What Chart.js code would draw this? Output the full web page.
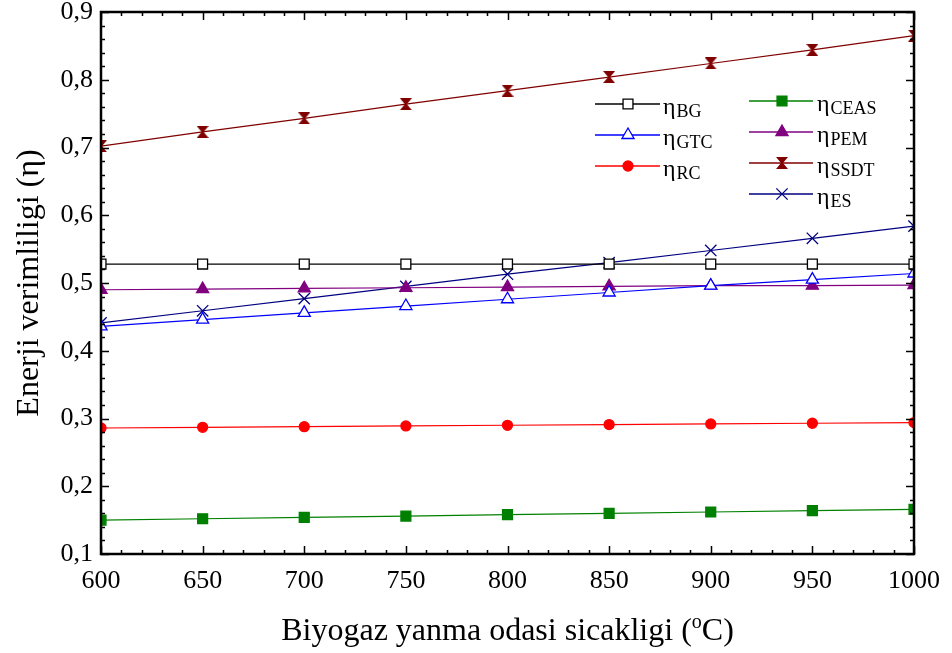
<!DOCTYPE html>
<html>
<head>
<meta charset="utf-8">
<script src="https://cdn.jsdelivr.net/npm/chart.js@4.4.0/dist/chart.umd.min.js"></script>
<style>
  html, body { margin: 0; padding: 0; background: #fff; }
</style>
</head>
<body>
<canvas id="chart" width="952" height="653"></canvas>
<script>
// temperature of the biogas combustion chamber (x axis)
const temperatures = [600, 650, 700, 750, 800, 850, 900, 950, 1000];

// energy efficiencies
const etaBG   = [0.528, 0.528, 0.528, 0.528, 0.528, 0.528, 0.528, 0.528, 0.528];
const etaGTC  = [0.436, 0.446, 0.456, 0.466, 0.476, 0.486, 0.496, 0.505, 0.514];
const etaRC   = [0.286, 0.287, 0.288, 0.289, 0.290, 0.291, 0.292, 0.293, 0.294];
const etaCEAS = [0.150, 0.152, 0.154, 0.156, 0.158, 0.160, 0.162, 0.164, 0.166];
const etaPEM  = [0.490, 0.491, 0.492, 0.493, 0.494, 0.495, 0.496, 0.496, 0.497];
const etaSSDT = [0.702, 0.723, 0.743, 0.764, 0.784, 0.804, 0.824, 0.844, 0.865];
const etaES   = [0.441, 0.459, 0.477, 0.495, 0.513, 0.530, 0.548, 0.566, 0.584];

const xTicks = { min: 600, max: 1000, step: 50, minor: 10 };
const yTicks = { min: 0.1, max: 0.9, step: 0.1, minor: 0.02 };

const SERIF = '"Liberation Serif", "Times New Roman", serif';

// hourglass marker for SSDT
function hourglass(color, s) {
  const c = document.createElement('canvas');
  c.width = s; c.height = s;
  const g = c.getContext('2d');
  g.fillStyle = color;
  g.beginPath();
  g.moveTo(0, 0); g.lineTo(s, 0); g.lineTo(s / 2 + 1, s / 2);
  g.lineTo(s, s); g.lineTo(0, s); g.lineTo(s / 2 - 1, s / 2);
  g.closePath();
  g.fill();
  return c;
}

const pts = arr => temperatures.map((t, i) => ({ x: t, y: arr[i] }));

function series(label, values, color, style, fill, radius, col, row) {
  return {
    label: label,
    data: pts(values),
    borderColor: color,
    borderWidth: 1.2,
    pointStyle: style,
    pointRadius: radius,
    pointBorderColor: color,
    pointBackgroundColor: fill,
    pointBorderWidth: 1.3,
    clip: 0,
    legendPos: { col: col, row: row }
  };
}

const datasets = [
  series('BG',   etaBG,   '#000000', 'rect',     '#ffffff', 7, 0, 0),
  series('GTC',  etaGTC,  '#0000ff', 'triangle', '#ffffff', 7, 0, 1),
  series('RC',   etaRC,   '#ff0000', 'circle',   '#ff0000', 5, 0, 2),
  series('CEAS', etaCEAS, '#008000', 'rect',     '#008000', 7, 1, 0),
  series('PEM',  etaPEM,  '#800080', 'triangle', '#800080', 7, 1, 1),
  series('SSDT', etaSSDT, '#800000', hourglass('#800000', 12), '#800000', 6, 1, 2),
  series('ES',   etaES,   '#000080', 'crossRot', '#000080', 8, 1, 3)
];

// frame with inside ticks on all four sides, in-plot legend and axis titles
const framePlugin = {
  id: 'frame',
  afterDatasetsDraw(chart) {
    const { ctx, chartArea: a, scales: { x, y } } = chart;
    ctx.save();
    ctx.strokeStyle = '#000';
    ctx.lineWidth = 1.5;
    ctx.beginPath();
    for (let v = xTicks.min; v <= xTicks.max + 0.001; v += xTicks.minor) {
      const px = Math.round(x.getPixelForValue(v)) + 0.5;
      const len = v % xTicks.step === 0 ? 8 : 4;
      ctx.moveTo(px, a.bottom); ctx.lineTo(px, a.bottom - len);
      ctx.moveTo(px, a.top); ctx.lineTo(px, a.top + len);
    }
    const n = Math.round((yTicks.max - yTicks.min) / yTicks.minor);
    for (let i = 0; i <= n; i++) {
      const py = Math.round(y.getPixelForValue(yTicks.min + i * yTicks.minor)) + 0.5;
      const len = i % 5 === 0 ? 8 : 4;
      ctx.moveTo(a.left, py); ctx.lineTo(a.left + len, py);
      ctx.moveTo(a.right, py); ctx.lineTo(a.right - len, py);
    }
    ctx.stroke();
    ctx.lineWidth = 2.5;
    ctx.strokeRect(a.left, a.top, a.right - a.left, a.bottom - a.top);

    // legend
    const cols = [
      { x0: 595, x1: 660, mx: 628, tx: 663, y0: 104 },
      { x0: 749, x1: 813, mx: 782, tx: 817, y0: 101 }
    ];
    chart.data.datasets.forEach(ds => {
      const c = cols[ds.legendPos.col];
      const ly = c.y0 + ds.legendPos.row * 31;
      ctx.strokeStyle = ds.borderColor;
      ctx.lineWidth = 1.4;
      ctx.beginPath();
      ctx.moveTo(c.x0, ly); ctx.lineTo(c.x1, ly);
      ctx.stroke();
      ctx.fillStyle = ds.pointBackgroundColor;
      ctx.strokeStyle = ds.pointBorderColor;
      ctx.lineWidth = ds.pointBorderWidth;
      Chart.helpers.drawPoint(ctx, {
        pointStyle: ds.pointStyle, radius: ds.pointRadius,
        rotation: 0, borderWidth: ds.pointBorderWidth
      }, c.mx, ly);
      ctx.fillStyle = '#000';
      ctx.textAlign = 'left';
      ctx.textBaseline = 'alphabetic';
      ctx.font = '24px ' + SERIF;
      ctx.fillText('\u03b7', c.tx, ly + 10);
      const w = ctx.measureText('\u03b7').width;
      ctx.font = '18px ' + SERIF;
      ctx.fillText(ds.label, c.tx + w + 1, ly + 13);
    });

    // x axis title with superscript o
    ctx.fillStyle = '#000';
    ctx.textBaseline = 'alphabetic';
    ctx.textAlign = 'left';
    const t1 = 'Biyogaz yanma odasi sicakligi (', t2 = 'o', t3 = 'C)';
    ctx.font = '32px ' + SERIF;
    const w1 = ctx.measureText(t1).width, w3 = ctx.measureText(t3).width;
    ctx.font = '20px ' + SERIF;
    const w2 = ctx.measureText(t2).width;
    let tx = (a.left + a.right) / 2 - (w1 + w2 + w3) / 2;
    const base = 640;
    ctx.font = '32px ' + SERIF;
    ctx.fillText(t1, tx, base);
    ctx.font = '20px ' + SERIF;
    ctx.fillText(t2, tx + w1, base - 12);
    ctx.font = '32px ' + SERIF;
    ctx.fillText(t3, tx + w1 + w2, base);

    // y axis title
    ctx.save();
    ctx.translate(30, (a.top + a.bottom) / 2);
    ctx.rotate(-Math.PI / 2);
    ctx.textAlign = 'center';
    ctx.textBaseline = 'middle';
    ctx.font = '32px ' + SERIF;
    ctx.fillText('Enerji verimliligi (\u03b7)', 0, 0);
    ctx.restore();

    ctx.restore();
  }
};

new Chart(document.getElementById('chart'), {
  type: 'line',
  data: { datasets: datasets },
  options: {
    responsive: false,
    animation: false,
    layout: { padding: { top: 12, right: 38, left: 0, bottom: 0 } },
    plugins: {
      legend: { display: false },
      tooltip: { enabled: false }
    },
    scales: {
      x: {
        type: 'linear',
        min: xTicks.min,
        max: xTicks.max,
        grid: { display: false, drawTicks: false },
        border: { display: false },
        ticks: {
          stepSize: xTicks.step,
          color: '#000',
          padding: 12,
          maxRotation: 0,
          font: { family: SERIF, size: 26 },
          callback: v => String(v)
        },
        afterFit(scale) {
          scale.height = 99;
          scale.paddingLeft = 0;
          scale.paddingRight = 0;
        }
      },
      y: {
        min: yTicks.min,
        max: yTicks.max,
        grid: { display: false, drawTicks: false },
        border: { display: false },
        ticks: {
          stepSize: yTicks.step,
          color: '#000',
          padding: 8,
          font: { family: SERIF, size: 26 },
          callback: v => v.toFixed(1).replace('.', ',')
        },
        afterFit(scale) {
          scale.width = 101;
          scale.paddingTop = 0;
          scale.paddingBottom = 0;
        }
      }
    }
  },
  plugins: [framePlugin]
});
</script>
</body>
</html>
